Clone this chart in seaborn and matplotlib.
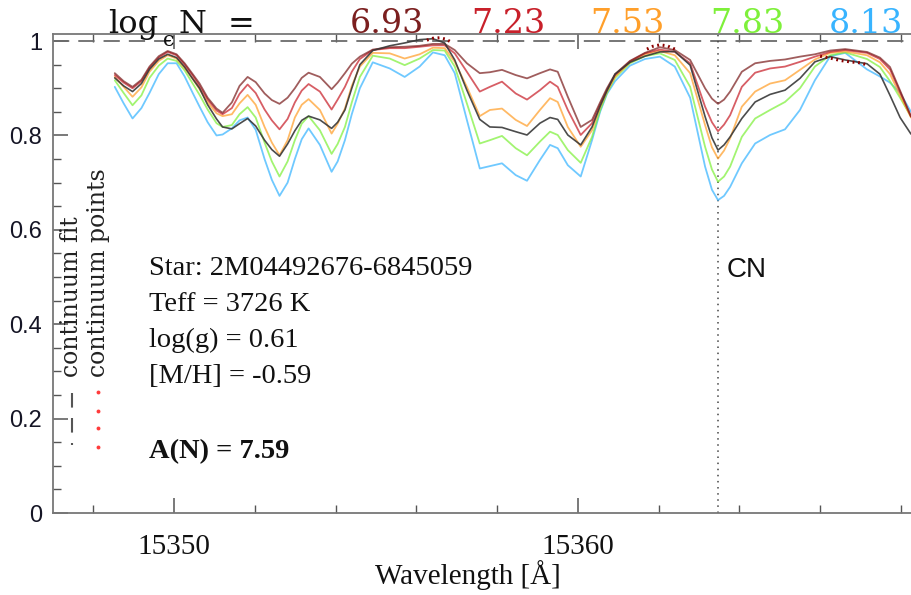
import numpy as np
import pandas as pd
import matplotlib
matplotlib.use("Agg")
import matplotlib.pyplot as plt
import seaborn as sns
from matplotlib.lines import Line2D
from matplotlib.ticker import MultipleLocator, FuncFormatter


# --- values ---
wavelength = [15348.53, 15348.75, 15348.97, 15349.19, 15349.39, 15349.62, 15349.84, 15350.06, 15350.26, 15350.46,
              15350.63, 15350.83, 15351.05, 15351.20, 15351.43, 15351.62, 15351.82, 15352.02, 15352.24, 15352.42,
              15352.61, 15352.81, 15352.99, 15353.16, 15353.33, 15353.61, 15353.90, 15354.05, 15354.23, 15354.40,
              15354.60, 15354.92, 15355.34, 15355.71, 15356.08, 15356.41, 15356.70, 15356.95, 15357.25, 15357.57,
              15357.82, 15358.12, 15358.46, 15358.74, 15359.06, 15359.31, 15359.50, 15359.75, 15360.07, 15360.35,
              15360.55, 15360.72, 15360.92, 15361.29, 15361.66, 15362.03, 15362.40, 15362.78, 15363.15, 15363.32,
              15363.47, 15363.62, 15363.77, 15364.06, 15364.39, 15364.76, 15365.13, 15365.50, 15365.87, 15366.25,
              15366.62, 15367.16, 15367.48, 15367.73, 15367.98, 15368.25]

flux_693 = [.932, .915, .903, .918, .946, .968, .979, .972, .953, .930,
            .910, .880, .857, .848, .870, .905, .924, .913, .889, .875,
            .867, .880, .900, .922, .933, .924, .898, .912, .932, .952,
            .967, .982, .987, .988, .990, .994, .994, .981, .953, .932,
            .934, .939, .928, .921, .932, .940, .935, .882, .818, .833,
            .870, .900, .930, .958, .975, .987, .981, .960, .900, .878,
            .867, .876, .893, .935, .953, .958, .961, .967, .972, .980,
            .983, .977, .965, .945, .895, .840]
flux_723 = [.928, .912, .900, .915, .943, .965, .977, .970, .950, .927,
            .905, .876, .853, .845, .858, .888, .908, .890, .855, .832,
            .813, .835, .870, .895, .909, .893, .855, .876, .903, .935,
            .962, .981, .985, .985, .988, .991, .991, .974, .935, .893,
            .903, .914, .889, .876, .896, .914, .903, .854, .801, .826,
            .866, .897, .928, .957, .974, .982, .977, .953, .861, .828,
            .809, .823, .843, .903, .933, .942, .946, .956, .967, .977,
            .981, .975, .962, .940, .892, .840]
flux_753 = [.924, .903, .882, .902, .935, .958, .970, .963, .943, .920,
            .898, .870, .847, .841, .845, .868, .886, .865, .818, .785,
            .758, .790, .838, .865, .877, .854, .804, .825, .857, .905,
            .946, .975, .974, .963, .972, .986, .985, .956, .903, .841,
            .854, .857, .833, .820, .854, .879, .871, .818, .776, .811,
            .860, .893, .925, .955, .972, .979, .970, .932, .822, .775,
            .751, .768, .794, .861, .893, .910, .917, .939, .961, .975,
            .978, .970, .955, .930, .885, .838]
flux_783 = [.917, .890, .864, .885, .922, .948, .963, .958, .938, .910,
            .886, .855, .826, .818, .822, .845, .860, .838, .785, .745,
            .713, .745, .790, .825, .841, .811, .761, .782, .818, .870,
            .924, .969, .963, .949, .963, .981, .980, .946, .868, .783,
            .790, .799, .773, .758, .787, .808, .801, .769, .742, .797,
            .853, .890, .922, .953, .968, .974, .960, .903, .776, .728,
            .702, .713, .734, .797, .836, .854, .871, .900, .946, .970,
            .976, .962, .945, .915, .880, .840]
flux_813 = [.903, .868, .836, .858, .890, .930, .953, .953, .925, .890,
            .861, .828, .800, .802, .815, .832, .838, .812, .750, .706,
            .672, .700, .750, .792, .815, .780, .723, .745, .790, .845,
            .900, .955, .942, .924, .946, .976, .970, .932, .833, .730,
            .735, .741, .716, .704, .748, .780, .773, .737, .713, .790,
            .850, .888, .915, .948, .962, .967, .946, .880, .734, .685,
            .663, .672, .691, .741, .783, .801, .813, .854, .917, .968,
            .975, .940, .925, .912, .890, .850]
observed = [.922, .905, .893, .910, .940, .962, .972, .965, .945, .920,
            .900, .865, .835, .818, .814, .825, .836, .820, .790, .770,
            .756, .782, .810, .832, .841, .833, .815, .828, .854, .900,
            .950, .980, .990, .996, 1.003, 1.005, .996, .960, .896, .834,
            .818, .817, .808, .801, .826, .838, .834, .801, .780, .818,
            .862, .895, .930, .955, .968, .977, .978, .949, .840, .795,
            .769, .780, .797, .836, .871, .887, .896, .921, .956, .967,
            .960, .952, .930, .885, .838, .803]

# continuum points (three short stretches)
cont_wl = [[15356.26, 15356.41, 15356.58, 15356.73, 15356.88],
           [15361.71, 15361.86, 15362.03, 15362.21, 15362.40],
           [15366.00, 15366.25, 15366.49, 15366.74, 15366.99, 15367.14]]
cont_flux = [[1.002, 1.006, 1.007, 1.004, 0.997],
             [0.983, 0.989, 0.992, 0.990, 0.983],
             [0.968, 0.964, 0.959, 0.956, 0.954, 0.950]]

continuum_level = 1.0
cn_wavelength = 15363.47

logN_labels = ['6.93', '7.23', '7.53', '7.83', '8.13']
logN_colors = ['#7b1f1f', '#c8202a', '#ff9f2a', '#7ef03a', '#38b4ff']

star_info = ['Star: 2M04492676-6845059', 'Teff = 3726 K', 'log(g) = 0.61', '[M/H] = -0.59']
abundance = 'A(N) = 7.59'

# --- long table of the synthetic spectra ---
models = pd.DataFrame({
    'wavelength': np.tile(wavelength, 5),
    'flux': np.concatenate([flux_693, flux_723, flux_753, flux_783, flux_813]),
    'logN': np.repeat(logN_labels, len(wavelength)),
})

sns.set_style("ticks")
plt.rcParams['font.family'] = ['DejaVu Serif']
plt.rcParams['mathtext.fontset'] = 'dejavuserif'

fig = plt.figure(figsize=(9.11, 5.95), dpi=100)
ax = fig.add_axes([53 / 911, 82 / 595, 858 / 911, 479 / 595])

sns.lineplot(data=models, x='wavelength', y='flux', hue='logN',
             hue_order=logN_labels[::-1], palette=dict(zip(logN_labels, logN_colors)),
             estimator=None, sort=False, legend=False, lw=1.3, alpha=0.72,
             solid_joinstyle='round', ax=ax)
sns.lineplot(x=wavelength, y=observed, color='#383838', lw=1.2, alpha=0.9,
             estimator=None, sort=False, ax=ax)
for wl, fl in zip(cont_wl, cont_flux):
    ax.plot(wl, fl, color='#8b0000', lw=2.2, linestyle=(0, (0.6, 1.2)))

ax.axhline(continuum_level, color='#6b6b6b', lw=1.3, dashes=(9, 5), zorder=1)
ax.axvline(cn_wavelength, color='#444444', lw=1.1, linestyle=(0, (1, 3)), zorder=1)

ax.set_xlim(15347.0, 15368.25)
ax.set_ylim(0, 1.015)
ax.xaxis.set_major_locator(MultipleLocator(10))
ax.xaxis.set_minor_locator(MultipleLocator(2))
ax.yaxis.set_major_locator(MultipleLocator(0.2))
ax.yaxis.set_minor_locator(MultipleLocator(0.05))
ax.xaxis.set_major_formatter(FuncFormatter(lambda v, p: f'{v:.0f}'))
ax.yaxis.set_major_formatter(FuncFormatter(lambda v, p: f'{round(v, 2):g}'))

ax.tick_params(which='both', direction='in', top=True, right=False, color='#555555')
ax.tick_params(which='major', length=11, width=1.1)
ax.tick_params(which='minor', length=5.5, width=1.0)
ax.tick_params(axis='y', labelsize=17, labelfontfamily='Liberation Sans', labelcolor='#151525', pad=8)
ax.tick_params(axis='x', labelsize=21, labelfontfamily='Liberation Serif', labelcolor='#111111', pad=15)
ax.spines['right'].set_visible(False)
for side in ['left', 'bottom', 'top']:
    ax.spines[side].set_color('#777777')
    ax.spines[side].set_linewidth(1.3)

ax.set_ylabel('')
ax.set_xlabel('Wavelength [Å]', fontsize=21, family='Liberation Serif', color='#111111')
ax.xaxis.set_label_coords(0.4837, -0.098)

# title row: log_eps N = and the abundance labels
title_y = (595 - 33) / 595
fig.text(108 / 911, title_y, 'log', fontsize=23, va='baseline', color='#111111')
fig.text(163 / 911, (595 - 46) / 595, 'ϵ', fontsize=15, va='baseline', color='#111111')
fig.text(178 / 911, title_y, 'N', fontsize=23, va='baseline', color='#111111')
fig.text(228 / 911, title_y, '=', fontsize=23, va='baseline', color='#111111')
for lab, col, xc in zip(logN_labels, logN_colors, [387, 508, 627, 747, 866]):
    fig.text(xc / 911, title_y, lab, fontsize=24, color=col, ha='center', va='baseline')

# star parameters
for line, yb in zip(star_info, [275, 311, 347, 383]):
    fig.text(149 / 911, (595 - yb) / 595, line, fontsize=20.5, family='Liberation Serif',
             va='baseline', color='#111111')
fig.text(149 / 911, (595 - 458) / 595, abundance, fontsize=20.5, family='Liberation Serif',
         fontweight='bold', va='baseline', color='#111111')

fig.text(727 / 911, (595 - 277) / 595, 'CN', fontsize=20, family='Liberation Sans',
         va='baseline', color='#111111')

# rotated legend on the left
fig.text(72 / 911, (595 - 377) / 595, 'continuum fit', rotation=90, ha='center', va='bottom',
         fontsize=17, color='#222222')
fig.text(98 / 911, (595 - 377) / 595, 'continuum points', rotation=90, ha='center', va='bottom',
         fontsize=17, color='#222222')
fig.add_artist(Line2D([72 / 911, 72 / 911], [(595 - 393) / 595, (595 - 445) / 595],
                      transform=fig.transFigure, color='#555555', lw=1.5,
                      linestyle=(0, (7, 5))))
fig.add_artist(Line2D([98 / 911] * 4, [(595 - y) / 595 for y in [392, 411, 428, 447]],
                      transform=fig.transFigure, ls='none', marker='o', ms=2.8,
                      color='#ff3b3b', markeredgewidth=0))

fig.savefig('out.png', dpi=100)
